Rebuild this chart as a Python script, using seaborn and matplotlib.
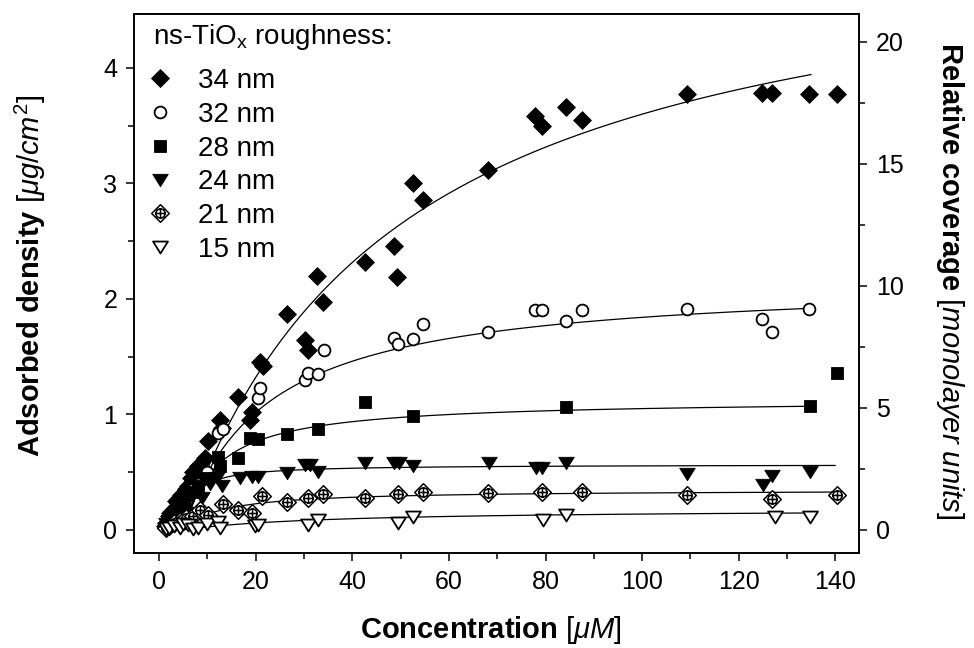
import numpy as np
import pandas as pd
import matplotlib
matplotlib.use("Agg")
import matplotlib.pyplot as plt
import seaborn as sns
from matplotlib.path import Path
from matplotlib.lines import Line2D
from matplotlib.ticker import MultipleLocator

# ---------------- data ----------------
series_labels = ["34 nm", "32 nm", "28 nm", "24 nm", "21 nm", "15 nm"]

conc_34 = [1.2, 1.5, 2.0, 2.2, 2.5, 3.0, 3.5, 3.8, 4.2, 4.5, 5.0, 5.5, 6.0, 6.5, 7.0, 8.0, 8.5, 9.5,
           10.1, 12.6, 13.0, 16.4, 18.8, 19.3, 20.9, 21.5, 26.5, 30.2, 30.8, 32.7, 34.0, 42.6,
           48.7, 49.3, 52.6, 54.7, 68.1, 77.8, 79.3, 84.3, 87.6, 109.3, 124.8, 126.9, 134.6, 140.4]
dens_34 = [0.03, 0.06, 0.12, 0.15, 0.09, 0.18, 0.25, 0.20, 0.28, 0.30, 0.22, 0.35, 0.38, 0.45, 0.50,
           0.55, 0.45, 0.62, 0.77, 0.95, 0.88, 1.15, 0.95, 1.02, 1.45, 1.42, 1.87, 1.64, 1.56, 2.20,
           1.97, 2.32, 2.46, 2.19, 3.00, 2.86, 3.12, 3.58, 3.50, 3.66, 3.55, 3.77, 3.78, 3.78,
           3.77, 3.77]

conc_32 = [1.5, 2.0, 3.0, 4.0, 5.0, 6.0, 7.0, 8.0, 10.0, 12.2, 13.3, 20.5, 20.9, 30.2, 30.9, 32.9,
           34.2, 48.7, 49.5, 52.6, 54.7, 68.1, 77.8, 79.3, 84.3, 87.6, 109.3, 124.8, 126.9, 134.6]
dens_32 = [0.03, 0.05, 0.12, 0.18, 0.25, 0.30, 0.35, 0.40, 0.50, 0.84, 0.87, 1.14, 1.23, 1.30, 1.36,
           1.35, 1.56, 1.66, 1.61, 1.65, 1.78, 1.71, 1.90, 1.90, 1.81, 1.90, 1.91, 1.83, 1.71, 1.91]

conc_28 = [1.5, 2.0, 3.0, 4.0, 5.0, 6.0, 7.0, 8.0, 10.0, 12.2, 12.6, 16.4, 18.8, 20.5, 26.5, 32.9,
           42.6, 52.6, 84.3, 134.8, 140.4]
dens_28 = [0.04, 0.05, 0.10, 0.20, 0.25, 0.30, 0.33, 0.38, 0.45, 0.63, 0.55, 0.62, 0.80, 0.79, 0.83,
           0.87, 1.11, 0.99, 1.06, 1.07, 1.36]

conc_24 = [1.5, 2.5, 3.0, 3.5, 4.5, 5.5, 6.0, 7.9, 8.8, 10.5, 12.0, 13.0, 16.8, 19.3, 20.5, 26.5,
           30.2, 31.3, 32.9, 42.6, 48.7, 49.7, 52.6, 68.3, 78.0, 79.3, 84.3, 109.3, 125.0, 126.9,
           134.8]
dens_24 = [0.05, 0.10, 0.06, 0.20, 0.25, 0.15, 0.30, 0.37, 0.28, 0.40, 0.45, 0.38, 0.45, 0.46, 0.46,
           0.49, 0.56, 0.56, 0.50, 0.58, 0.58, 0.58, 0.55, 0.58, 0.54, 0.54, 0.58, 0.48, 0.39, 0.47,
           0.50]

conc_21 = [1.5, 2.0, 3.0, 4.3, 5.5, 7.0, 8.5, 10.1, 13.3, 16.4, 19.3, 21.3, 26.5, 30.8, 34.0, 42.6,
           49.5, 54.7, 68.1, 79.3, 87.6, 109.3, 126.9, 140.4]
dens_21 = [0.02, 0.03, 0.06, 0.08, 0.10, 0.12, 0.17, 0.13, 0.22, 0.17, 0.15, 0.29, 0.24, 0.28, 0.31,
           0.28, 0.31, 0.33, 0.32, 0.33, 0.33, 0.30, 0.27, 0.30]

conc_15 = [1.5, 2.0, 3.0, 4.3, 5.0, 6.0, 7.0, 8.1, 10.0, 12.2, 12.6, 19.9, 20.5, 30.8, 32.9, 49.5,
           52.6, 79.5, 84.3, 127.5, 134.8]
dens_15 = [0.01, 0.02, 0.03, 0.02, 0.05, 0.04, 0.01, 0.02, 0.05, 0.07, 0.02, 0.03, 0.04, 0.04, 0.09,
           0.06, 0.11, 0.09, 0.13, 0.11, 0.11]

# Langmuir fit parameters of the drawn fit curves
fit_bmax = [5.32, 2.17, 1.13, 0.567, 0.347, 0.181]
fit_kd = [45.4, 17.0, 7.2, 2.17, 8.0, 30.3]
fit_c0 = [5.0, 5.0, 5.0, 5.0, 5.0, 5.0]
fit_end = [135.0, 135.0, 136.0, 140.0, 140.5, 136.0]

x_ticks = [0, 20, 40, 60, 80, 100, 120, 140]
y_ticks = [0, 1, 2, 3, 4]
y2_ticks = [0, 5, 10, 15, 20]

# ---------------- styles ----------------
sns.set_theme(style="ticks")
plt.rcParams["font.family"] = ["Liberation Sans", "DejaVu Sans"]
plt.rcParams["mathtext.fontset"] = "custom"
plt.rcParams["mathtext.rm"] = "Liberation Sans"
plt.rcParams["mathtext.it"] = "Liberation Sans:italic"
plt.rcParams["mathtext.bf"] = "Liberation Sans:bold"
plt.rcParams["text.color"] = "black"
plt.rcParams["axes.labelcolor"] = "black"
plt.rcParams["xtick.color"] = "black"
plt.rcParams["ytick.color"] = "black"

# crossed diamond marker (diamond with a circled cross inside)
_diam = Path([(0, -1), (1, 0), (0, 1), (-1, 0), (0, -1)],
             [Path.MOVETO, Path.LINETO, Path.LINETO, Path.LINETO, Path.CLOSEPOLY])
_circ = Path.circle((0, 0), 0.52)
_cross = Path([(-0.6, 0), (0.6, 0), (0, -0.6), (0, 0.6)],
              [Path.MOVETO, Path.LINETO, Path.MOVETO, Path.LINETO])
crossed_diamond = Path.make_compound_path(_diam, _circ, _cross)
# wide triangles (down)
tri_down = Path([(-1, 0.8), (1, 0.8), (0, -0.8), (-1, 0.8)],
                [Path.MOVETO, Path.LINETO, Path.LINETO, Path.CLOSEPOLY])

series_conc = [conc_34, conc_32, conc_28, conc_24, conc_21, conc_15]
series_dens = [dens_34, dens_32, dens_28, dens_24, dens_21, dens_15]
markers = ["D", "o", "s", tri_down, crossed_diamond, tri_down]
sizes = [82, 72, 80, 125, 160, 115]
edge_w = [0.6, 1.3, 0.6, 0.6, 1.1, 1.3]
filled = [True, False, True, True, False, False]

fig = plt.figure(figsize=(9.74, 6.48), dpi=100)
ax = fig.add_axes([134 / 974, 1 - 553 / 648, (859 - 134) / 974, (553 - 14) / 648])

# fit curves
for i in range(6):
    c = np.linspace(fit_c0[i], fit_end[i], 400)
    u = c - fit_c0[i]
    yfit = fit_bmax[i] * u / (fit_kd[i] + u)
    sns.lineplot(x=c, y=yfit, color="black", lw=0.9, ax=ax, zorder=2, sort=False)

# scatter points
for i in range(6):
    df = pd.DataFrame({"conc": series_conc[i], "dens": series_dens[i]})
    if filled[i]:
        sns.scatterplot(data=df, x="conc", y="dens", marker=markers[i], s=sizes[i],
                        color="black", edgecolor="black", linewidth=edge_w[i], ax=ax, zorder=3)
    else:
        sns.scatterplot(data=df, x="conc", y="dens", marker=markers[i], s=sizes[i],
                        color="black", facecolor="white", edgecolor="black",
                        linewidth=edge_w[i], ax=ax, zorder=3)

ax.set_xlim(-5.2, 144.9)
ax.set_ylim(-0.2, 4.467)
ax.set_xticks(x_ticks)
ax.set_yticks(y_ticks)
ax.xaxis.set_minor_locator(MultipleLocator(10))
ax.yaxis.set_minor_locator(MultipleLocator(0.5))
ax.tick_params(which="both", direction="out", width=1.1, colors="black", labelsize=18)
ax.tick_params(which="major", length=6, pad=6)
ax.tick_params(which="minor", length=4)
for sp in ax.spines.values():
    sp.set_visible(True)
    sp.set_linewidth(1.2)
    sp.set_color("black")

ax.set_xlabel(r"$\mathbf{Concentration}$ $\mathit{[\mu M]}$", fontsize=21)
ax.set_ylabel(r"$\mathbf{Adsorbed\ density}$ $\mathit{[\mu g/cm^{2}]}$", fontsize=21)
ax.xaxis.set_label_coords(0.492, -0.142)
ax.xaxis.label.set_va("center")
ax.yaxis.set_label_coords(-0.143, 0.515)
ax.yaxis.label.set_va("center")

# right axis
factor = 4.73
ax2 = ax.twinx()
ax2.set_ylim(-0.2 * factor, 4.467 * factor)
ax2.set_yticks(y2_ticks)
ax2.yaxis.set_minor_locator(MultipleLocator(2.5))
ax2.tick_params(which="both", direction="out", width=1.1, colors="black", labelsize=18)
ax2.tick_params(which="major", length=6, pad=6)
ax2.tick_params(which="minor", length=4)
for sp in ax2.spines.values():
    sp.set_linewidth(1.2)
    sp.set_color("black")
ax2.set_ylabel(r"$\mathbf{Relative\ coverage}$ $\mathit{[monolayer\ units]}$", fontsize=21,
               rotation=270)
ax2.yaxis.set_label_coords(1.125, 0.505)
ax2.yaxis.label.set_va("center")
ax.tick_params(top=False)

# legend (title as separate text to match spacing)
ax.text((153 - 134) / 725, (553 - 37) / 539, r"ns-TiO$_{\mathrm{x}}$ roughness:",
        transform=ax.transAxes, fontsize=20, ha="left", va="center")
handles = []
for i in range(6):
    fc = "black" if filled[i] else "white"
    h = Line2D([], [], linestyle="none", marker=markers[i], markersize=np.sqrt(sizes[i]),
               color="black", markerfacecolor=fc, markeredgecolor="black",
               markeredgewidth=edge_w[i])
    handles.append(h)
leg = ax.legend(handles, series_labels, loc="upper left",
                bbox_to_anchor=((148 - 134) / 725, (553 - 68) / 539), frameon=False,
                fontsize=20, handlelength=0.86, handletextpad=0.94,
                labelspacing=0.28, borderpad=0.0, borderaxespad=0.0)

fig.savefig("out.png", dpi=100, facecolor="white")
